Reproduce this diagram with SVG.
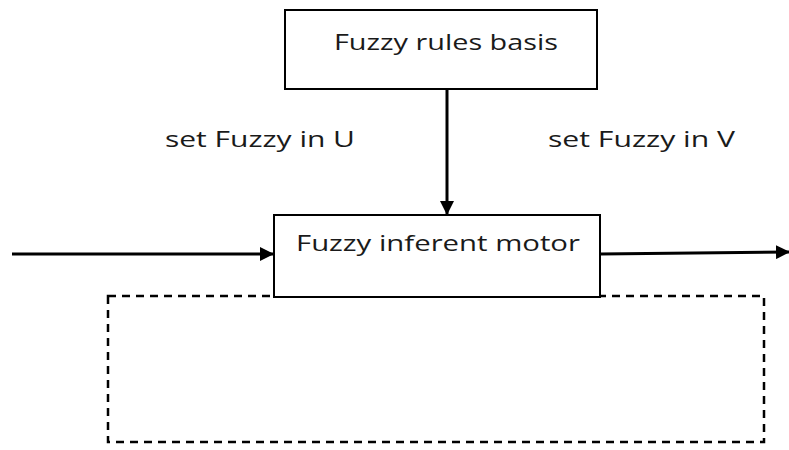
<svg xmlns="http://www.w3.org/2000/svg" width="789" height="450" viewBox="0 0 789 450">
<style>
.box{fill:#fff;stroke:#000;stroke-width:2}
.lbl{font-family:"Open Sans","Liberation Sans",sans-serif;font-size:21px;fill:#1a1a1a}
.ln{stroke:#000;stroke-width:3;fill:none}
.dash{stroke:#000;stroke-width:2.5;fill:none;stroke-dasharray:8,6}
</style>
<defs>
<marker id="ah" markerWidth="10" markerHeight="10" refX="9" refY="5" orient="auto" markerUnits="userSpaceOnUse" viewBox="0 0 10 10">
<path d="M0,0 L10,5 L0,10 z" fill="#000"/>
</marker>
<marker id="ah2" markerWidth="14" markerHeight="14" refX="13" refY="7" orient="auto" markerUnits="userSpaceOnUse" viewBox="0 0 14 14">
<path d="M0,0 L14,7 L0,14 z" fill="#000"/>
</marker>
</defs>
<rect x="108" y="296" width="656" height="146" class="dash"/>
<g id="connectors">
<line x1="12" y1="254" x2="273" y2="254" class="ln" marker-end="url(#ah2)"/>
<line x1="600" y1="254" x2="789" y2="252" class="ln" marker-end="url(#ah2)"/>
<line x1="447" y1="89" x2="447" y2="214" class="ln" marker-end="url(#ah2)"/>
</g>
<g id="rules">
<rect x="285" y="10" width="312" height="79" class="box"/>
<text x="446" y="50" class="lbl" text-anchor="middle" textLength="224" lengthAdjust="spacingAndGlyphs">Fuzzy rules basis</text>
</g>
<g id="motor">
<rect x="274" y="215" width="326" height="82" class="box"/>
<text x="438" y="251" class="lbl" text-anchor="middle" textLength="284" lengthAdjust="spacingAndGlyphs">Fuzzy inferent motor</text>
</g>
<text x="165" y="147" class="lbl" textLength="190" lengthAdjust="spacingAndGlyphs">set Fuzzy in U</text>
<text x="548" y="147" class="lbl" textLength="187" lengthAdjust="spacingAndGlyphs">set Fuzzy in V</text>
</svg>
